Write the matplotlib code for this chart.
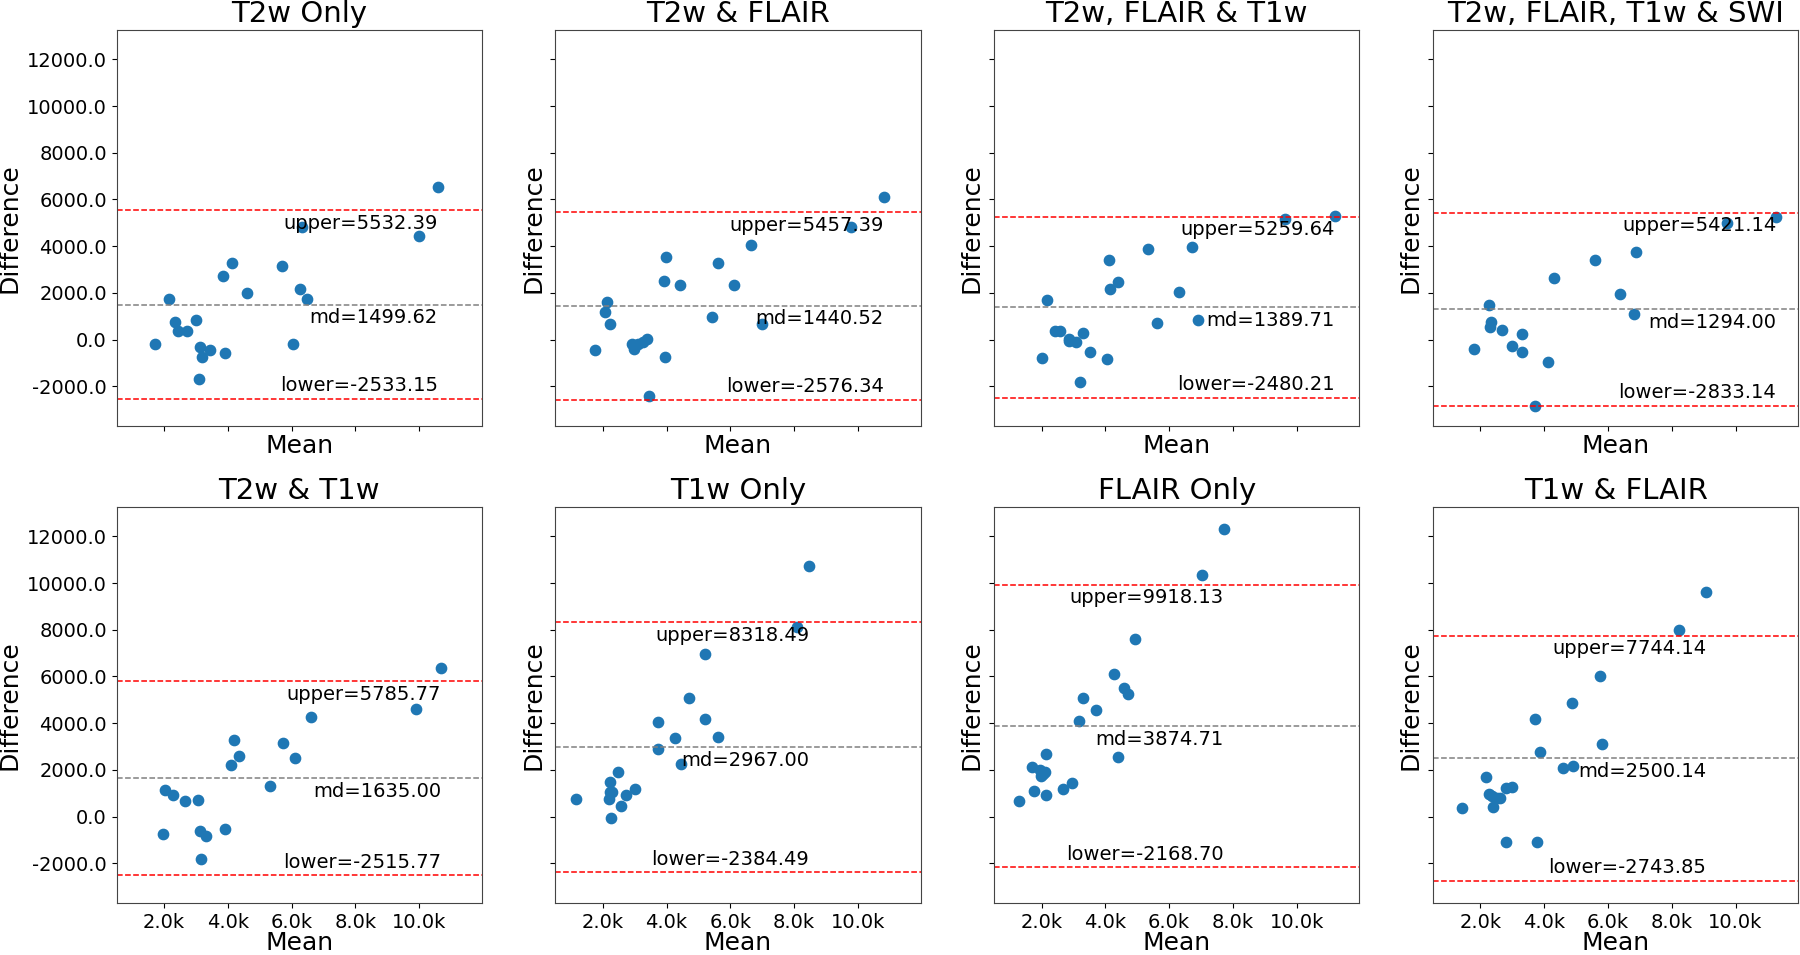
import matplotlib
matplotlib.use("Agg")
import matplotlib.pyplot as plt
from matplotlib.ticker import FuncFormatter

titles = ["T2w Only", "T2w & FLAIR", "T2w, FLAIR & T1w", "T2w, FLAIR, T1w & SWI",
          "T2w & T1w", "T1w Only", "FLAIR Only", "T1w & FLAIR"]

# mean / difference pairs, one list each per panel
mean_t2 = [1718, 2146, 2345, 2450, 2711, 3004, 3129, 3202, 3443, 3098, 3861,
           3924, 4143, 4603, 5701, 6057, 6266, 6318, 6475, 9988, 10584]
diff_t2 = [-200, 1757, 757, 357, 357, 857, -314, -743, -429, -1700, 2729,
           -571, 3300, 2014, 3157, -200, 2186, 4829, 1757, 4443, 6543]

mean_t2_fl = [1769, 2074, 2147, 2221, 2925, 2988, 3104, 3261, 3377, 3440, 3923,
              3997, 3944, 4417, 5437, 5615, 6130, 6656, 6992, 9777, 10807]
diff_t2_fl = [-457, 1200, 1629, 657, -200, -386, -171, -100, 43, -2414, 2514,
              3557, -743, 2329, 986, 3271, 2329, 4071, 657, 4800, 6114]

mean_t2_fl_t1 = [2010, 2167, 2427, 2563, 2844, 2865, 3073, 3303, 3532, 3198, 4063,
                 4115, 4136, 4407, 5334, 5605, 6314, 6720, 6908, 9638, 11190]
diff_t2_fl_t1 = [-786, 1686, 357, 371, 43, -57, -100, 286, -543, -1829, -843,
                 3414, 2171, 2457, 3886, 714, 2057, 3957, 829, 5157, 5286]

mean_all = [1812, 2262, 2335, 2314, 2691, 2984, 3309, 3298, 3717, 4115, 4314,
            5602, 6387, 6816, 6868, 9748, 11276]
diff_all = [-414, 1500, 757, 543, 400, -257, 257, -543, -2857, -971, 2643,
            3400, 1943, 1086, 3757, 5000, 5229]

mean_t2_t1 = [1979, 2021, 2272, 2659, 3077, 3129, 3307, 3171, 3924, 4101, 4185,
              4342, 5325, 5722, 6109, 6600, 9894, 10688]
diff_t2_t1 = [-755, 1126, 927, 684, 713, -627, -827, -1825, -527, 2210, 3279,
              2609, 1297, 3136, 2495, 4248, 4619, 6358]

mean_t1 = [1170, 2231, 2473, 2221, 2294, 2189, 2557, 2263, 2715, 2998, 3745,
           3745, 4270, 4459, 4712, 5216, 5216, 5615, 8096, 8474]
diff_t1 = [756, 1497, 1896, 1041, 1069, 756, 470, -71, 927, 1183, 4048,
           2894, 3350, 2266, 5089, 6942, 4191, 3407, 8125, 10734]

mean_fl = [1292, 1687, 1771, 1958, 2031, 1979, 2104, 2135, 2146, 2677, 2959,
           3177, 3292, 3698, 4282, 4386, 4584, 4709, 4938, 7043, 7710]
diff_fl = [656, 2124, 1098, 1996, 1810, 1739, 1924, 2666, 927, 1183, 1426,
           4105, 5089, 4562, 6115, 2552, 5488, 5232, 7584, 10335, 12331]

mean_t1_fl = [1424, 2178, 2262, 2366, 2524, 2628, 2398, 2817, 3005, 2817, 3780,
              3717, 3874, 4597, 4890, 4879, 5759, 5811, 8240, 9088]
diff_t1_fl = [385, 1696, 955, 898, 813, 813, 428, 1212, 1283, -1069, -1069,
              4191, 2751, 2067, 2167, 4861, 6001, 3093, 7983, 9608]

means = [mean_t2, mean_t2_fl, mean_t2_fl_t1, mean_all,
         mean_t2_t1, mean_t1, mean_fl, mean_t1_fl]
diffs = [diff_t2, diff_t2_fl, diff_t2_fl_t1, diff_all,
         diff_t2_t1, diff_t1, diff_fl, diff_t1_fl]

md_vals = [1499.62, 1440.52, 1389.71, 1294.00, 1635.00, 2967.00, 3874.71, 2500.14]
upper_vals = [5532.39, 5457.39, 5259.64, 5421.14, 5785.77, 8318.49, 9918.13, 7744.14]
lower_vals = [-2533.15, -2576.34, -2480.21, -2833.14, -2515.77, -2384.49, -2168.70, -2743.85]

x_ticks = [2000, 4000, 6000, 8000, 10000]
y_ticks = [-2000, 0, 2000, 4000, 6000, 8000, 10000, 12000]

fig, axes = plt.subplots(2, 4, figsize=(18, 9.55), dpi=100, sharex=True, sharey=True)
fig.subplots_adjust(left=0.0648, right=0.999, top=0.9686, bottom=0.0541,
                    wspace=0.2016, hspace=0.2035)

for i, ax in enumerate(axes.flat):
    m = means[i]
    d = diffs[i]
    ax.scatter(m, d, s=55, color="#1f77b4")
    ax.axhline(md_vals[i], color="gray", linestyle="--", linewidth=1.1)
    ax.axhline(upper_vals[i], color="red", linestyle="--", linewidth=1.1)
    ax.axhline(lower_vals[i], color="red", linestyle="--", linewidth=1.1)

    # labels sit at the right-most point of the panel
    xr = max(m)
    ax.text(xr, upper_vals[i] - 150, "upper=%.2f" % upper_vals[i], ha="right", va="top", fontsize=14)
    ax.text(xr, md_vals[i] - 150, "md=%.2f" % md_vals[i], ha="right", va="top", fontsize=14)
    ax.text(xr, lower_vals[i] + 150, "lower=%.2f" % lower_vals[i], ha="right", va="bottom", fontsize=14)

    ax.set_title(titles[i], fontsize=21)
    pad = 2 if i < 4 else -1
    ax.set_xlabel("Mean", fontsize=18, labelpad=pad)
    ax.set_ylabel("Difference", fontsize=18)
    ax.set_xticks(x_ticks)
    ax.set_yticks(y_ticks)
    ax.tick_params(labelsize=14)
    for sp in ax.spines.values():
        sp.set_color("#444444")

axes[0, 0].set_xlim(515, 11966)
axes[0, 0].set_ylim(-3714, 13257)
axes[0, 0].xaxis.set_major_formatter(FuncFormatter(lambda v, p: "%.1fk" % (v / 1000)))
axes[0, 0].yaxis.set_major_formatter(FuncFormatter(lambda v, p: "%.1f" % v))

fig.savefig("out.png", dpi=100)
